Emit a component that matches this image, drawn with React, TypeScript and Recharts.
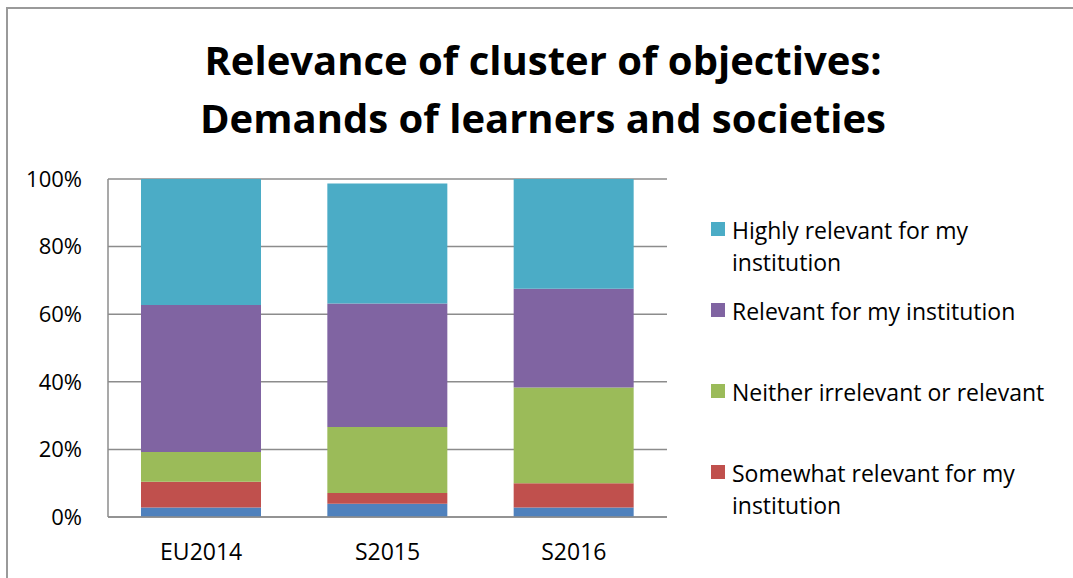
import { BarChart, Bar, XAxis, YAxis, CartesianGrid, Legend } from "recharts";

const categories = ["EU2014", "S2015", "S2016"];
const notRelevant = [2.8, 3.9, 2.8];
const somewhatRelevant = [7.6, 3.2, 7.2];
const neither = [8.8, 19.5, 28.3];
const relevant = [43.5, 36.6, 29.2];
const highlyRelevant = [37.3, 35.5, 32.5];
const yTicks = [0, 20, 40, 60, 80, 100];

const series = [
  { key: "notRelevant", name: "Not relevant for my institution", values: notRelevant, color: "#4F81BD", legend: false },
  { key: "somewhat", name: "Somewhat relevant for my\ninstitution", values: somewhatRelevant, color: "#C0504D", legend: true },
  { key: "neither", name: "Neither irrelevant or relevant", values: neither, color: "#9BBB59", legend: true },
  { key: "relevant", name: "Relevant for my institution", values: relevant, color: "#8064A2", legend: true },
  { key: "highly", name: "Highly relevant for my\ninstitution", values: highlyRelevant, color: "#4BACC6", legend: true },
];

const data = categories.map((cat, i) => {
  const row: Record<string, string | number> = { name: cat };
  series.forEach((s) => {
    row[s.key] = s.values[i];
  });
  return row;
});

const font = "'Open Sans', sans-serif";
const order = (name: string) => series.findIndex((s) => s.name === name);

function LegendBox(props: any) {
  const items = (props.payload || [])
    .filter((p: any) => p.type !== "none")
    .slice()
    .sort((a: any, b: any) => order(b.value) - order(a.value));
  return (
    <div style={{ fontFamily: font, fontSize: 23, color: "#000" }}>
      {items.map((p: any) => (
        <div key={p.value} style={{ position: "relative", height: 81, paddingLeft: 28 }}>
          <span
            style={{
              position: "absolute",
              left: 7,
              top: 8,
              width: 14,
              height: 14,
              background: p.color,
            }}
          />
          <div style={{ whiteSpace: "pre-line", lineHeight: "32px" }}>{p.value}</div>
        </div>
      ))}
    </div>
  );
}

export default function App() {
  return (
    <div style={{ position: "absolute", left: 0, top: 0, width: 1073, height: 578, background: "#fff", overflow: "hidden" }}>
      <div
        style={{
          position: "absolute",
          left: 6,
          top: 7,
          width: 1067,
          height: 571,
          borderLeft: "2px solid #9a9a9a",
          borderTop: "2px solid #9a9a9a",
        }}
      />
      <div
        style={{
          position: "absolute",
          left: 0,
          top: 31,
          width: 1086,
          textAlign: "center",
          fontFamily: font,
          fontWeight: 700,
          fontSize: 40,
          lineHeight: "58px",
          color: "#000",
        }}
      >
        Relevance of cluster of objectives:
        <br />
        Demands of learners and societies
      </div>
      <div style={{ position: "absolute", left: 0, top: 0 }}>
        <BarChart
          width={1073}
          height={578}
          data={data}
          margin={{ top: 179, right: 406, bottom: 21, left: 28 }}
          barSize={120}
        >
          <CartesianGrid vertical={false} stroke="#8c8c8c" strokeWidth={1.5} />
          <XAxis
            dataKey="name"
            height={40}
            tickLine={false}
            tickMargin={21}
            stroke="#8c8c8c"
            strokeWidth={1.5}
            tick={{ fill: "#000", fontSize: 23, fontFamily: font }}
          />
          <YAxis
            width={80}
            domain={[0, 100]}
            ticks={yTicks}
            tickFormatter={(v) => `${v}%`}
            tickLine={false}
            tickMargin={20}
            stroke="#8c8c8c"
            strokeWidth={1.5}
            tick={{ fill: "#000", fontSize: 22, fontFamily: font }}
          />
          <Legend
            layout="horizontal"
            verticalAlign="middle"
            align="center"
            content={<LegendBox />}
            wrapperStyle={{ left: 704, top: 214, width: 360 }}
          />
          {series.map((s) => (
            <Bar
              key={s.key}
              dataKey={s.key}
              name={s.name}
              stackId="a"
              fill={s.color}
              legendType={s.legend ? "square" : "none"}
              isAnimationActive={false}
            />
          ))}
        </BarChart>
      </div>
    </div>
  );
}
